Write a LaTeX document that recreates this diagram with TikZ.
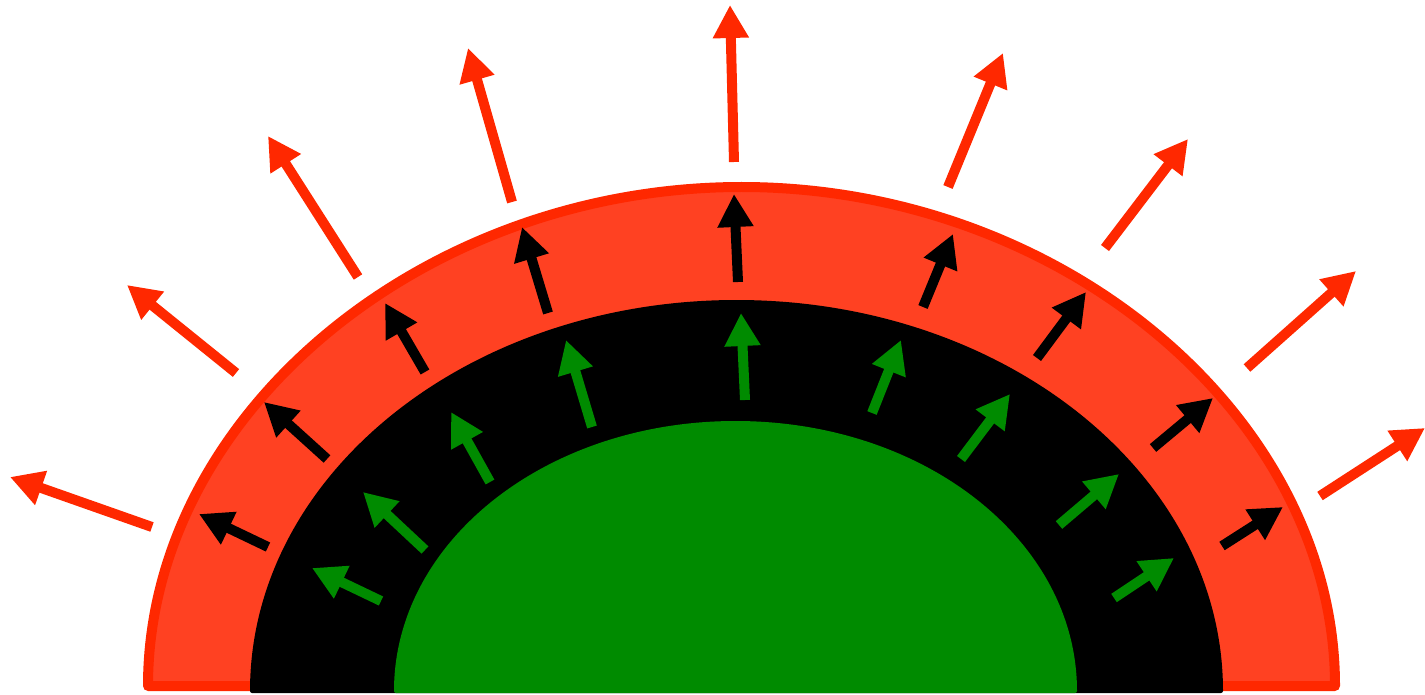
\documentclass[tikz,border=0pt]{standalone}
\usetikzlibrary{arrows.meta}
\definecolor{rimred}{RGB}{255,40,0}
\definecolor{fillred}{RGB}{255,65,34}
\definecolor{coregreen}{RGB}{0,139,0}
\tikzset{
  arr/.style={line width=10pt,-{Triangle[length=33pt,width=34pt]}},
  redarr/.style={arr,draw=rimred},
  blackarr/.style={arr,draw=black},
  greenarr/.style={arr,draw=coregreen}
}
\begin{document}
\begin{tikzpicture}[x=1pt,y=-1pt]
\useasboundingbox (0,0) rectangle (1425,695);
% outer red layer
\path[draw=rimred,fill=fillred,line width=10pt,line join=round]
  (148,686) .. controls (148,416.5) and (421,187) .. (741.5,187)
  .. controls (1062,187) and (1335,416.5) .. (1335,686) -- cycle;
% black layer
\path[draw=black,fill=black,line width=4pt,line join=round]
  (252,691) .. controls (252,476) and (468.8,302) .. (736.5,302)
  .. controls (1004.2,302) and (1221,476) .. (1221,691) -- cycle;
% green core
\path[draw=coregreen,fill=coregreen,line width=4pt,line join=round]
  (396,691) .. controls (396,542.8) and (546.9,423) .. (735.5,423)
  .. controls (924.1,423) and (1075,542.8) .. (1075,691) -- cycle;
% red arrows
\foreach \i/\ax/\ay/\bx/\by in {1/152/527/10/477, 2/236/373/127/285, 3/358/277/268/136,
  4/512/202/468/48, 5/734/162/730/5, 6/948/187/1003/53, 7/1105/248/1188/139,
  8/1247/368/1356/271, 9/1320/496/1425/428}{
  \coordinate (ra\i) at (\ax,\ay);
  \coordinate (rb\i) at (\bx,\by);
  \draw[redarr] (ra\i) -- (rb\i);
}
% black arrows
\foreach \i/\ax/\ay/\bx/\by in {1/268/547/199/514, 2/327/459/264/402, 3/425/372/385/303,
  4/548/313/522/227, 5/738/282/734/194, 6/923/307/953/234, 7/1037/358/1086/292,
  8/1153/448/1213/398, 9/1222/546/1283/507}{
  \coordinate (ka\i) at (\ax,\ay);
  \coordinate (kb\i) at (\bx,\by);
  \draw[blackarr] (ka\i) -- (kb\i);
}
% green arrows
\foreach \i/\ax/\ay/\bx/\by in {1/381/601/312/568, 2/425/550/363/492, 3/490/482/451/412,
  4/592/427/566/340, 5/745/400/741/313, 6/872/413/901/340, 7/961/459/1010/394,
  8/1059/525/1119/474, 9/1114/598/1174/558}{
  \coordinate (ga\i) at (\ax,\ay);
  \coordinate (gb\i) at (\bx,\by);
  \draw[greenarr] (ga\i) -- (gb\i);
}
\end{tikzpicture}
\end{document}
